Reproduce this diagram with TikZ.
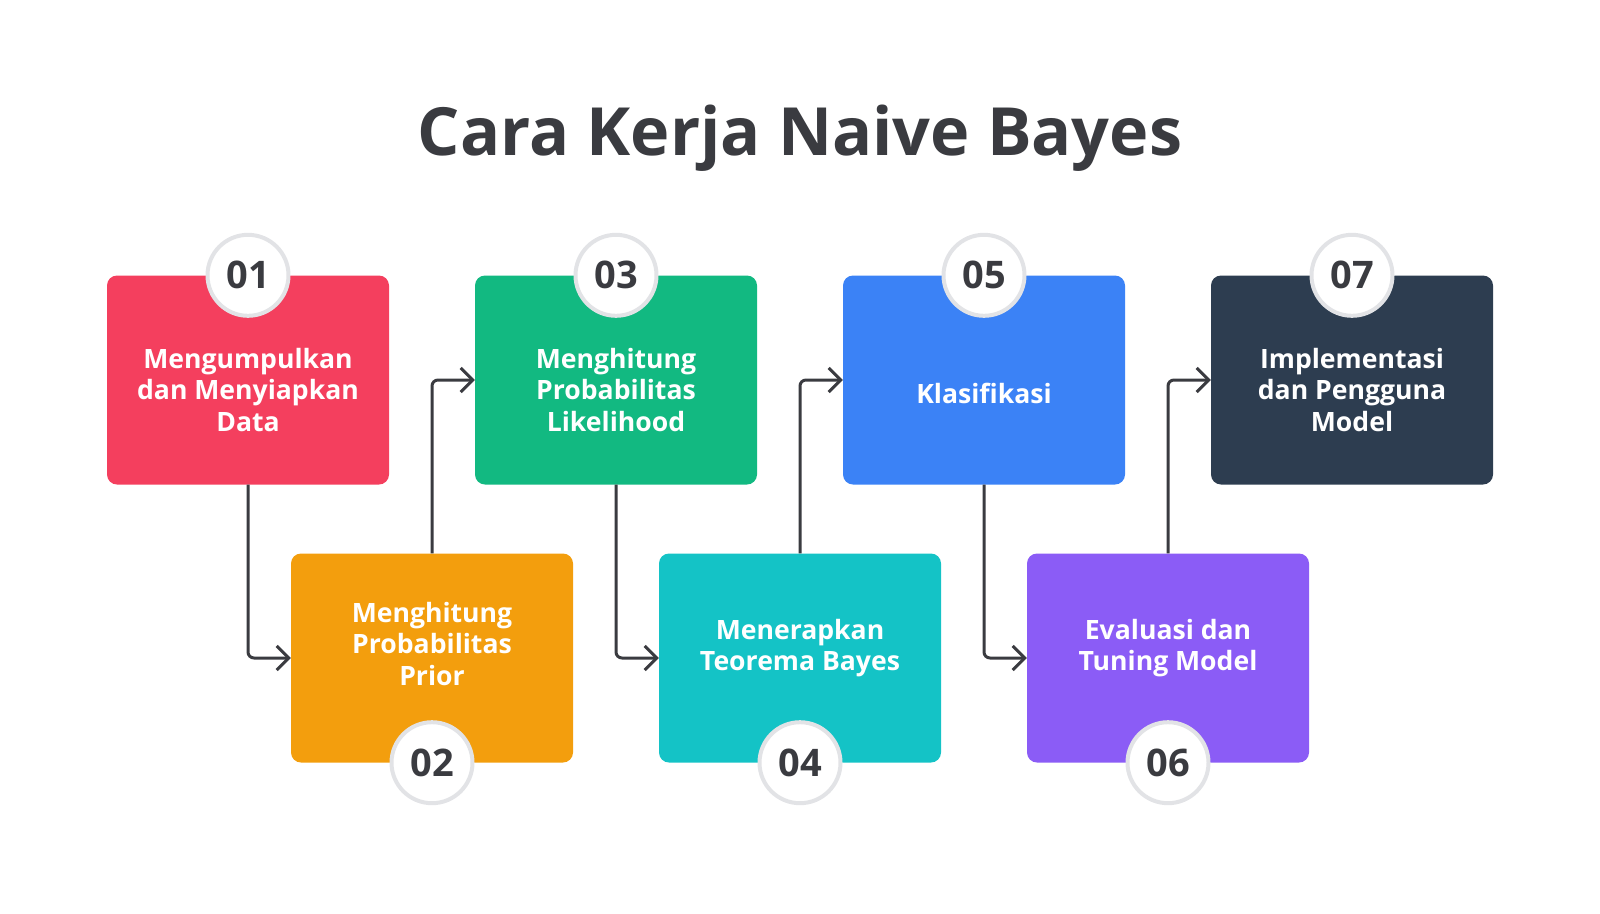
\documentclass[tikz,border=0pt]{standalone}
\usepackage{fontspec}
\setmainfont{Open Sans}
\usetikzlibrary{arrows.meta,positioning}
\definecolor{cRed}{HTML}{F43F5E}
\definecolor{cOrange}{HTML}{F39E0D}
\definecolor{cGreen}{HTML}{12B981}
\definecolor{cTeal}{HTML}{14C3C6}
\definecolor{cBlue}{HTML}{3B82F6}
\definecolor{cPurple}{HTML}{8B5CF6}
\definecolor{cDark}{HTML}{2D3D50}
\definecolor{cText}{HTML}{3A3B40}
\definecolor{cRing}{HTML}{E2E3E6}
\tikzset{
  stepbox/.style={rectangle, rounded corners=10pt, minimum width=282pt, minimum height=209pt,
    inner sep=0pt},
  boxtext/.style={text=white, align=center, inner sep=0pt,
    font=\fontsize{26.6pt}{31.7pt}\selectfont\bfseries},
  numcirc/.style={circle, fill=white, draw=cRing, line width=4pt, minimum size=81pt, inner sep=0pt,
    text=cText, font=\fontsize{38pt}{38pt}\selectfont\bfseries},
  conn/.style={draw=cText, line width=3pt, rounded corners=6pt,
    -{Straight Barb[length=12pt,width=24pt,line width=3pt]}},
}
\begin{document}
\begin{tikzpicture}[x=1pt,y=-1pt]
\useasboundingbox (0,0) rectangle (1600,913);
\node[text=cText, font=\fontsize{66.5pt}{66.5pt}\selectfont\bfseries] (title) at (800,138) {Cara Kerja Naive Bayes};

\node[stepbox, fill=cRed]    (b1) at (248,380) {};
\node[stepbox, fill=cOrange] (b2) at (432,658) {};
\node[stepbox, fill=cGreen]  (b3) at (616,380) {};
\node[stepbox, fill=cTeal]   (b4) at (800,658) {};
\node[stepbox, fill=cBlue]   (b5) at (984,380) {};
\node[stepbox, fill=cPurple] (b6) at (1168,658) {};
\node[stepbox, fill=cDark]   (b7) at (1352,380) {};

\node[boxtext] (t1) at ([yshift=-10pt]b1.center) {Mengumpulkan\\dan Menyiapkan\\Data};
\node[boxtext] (t2) at ([yshift=14pt]b2.center) {Menghitung\\Probabilitas\\Prior};
\node[boxtext] (t3) at ([yshift=-10pt]b3.center) {Menghitung\\Probabilitas\\Likelihood};
\node[boxtext] (t4) at ([yshift=10pt]b4.center) {Menerapkan\\Teorema Bayes};
\node[boxtext] (t5) at ([yshift=-13pt]b5.center) {Klasifikasi};
\node[boxtext] (t6) at ([yshift=10pt]b6.center) {Evaluasi dan\\Tuning Model};
\node[boxtext] (t7) at ([yshift=-10pt]b7.center) {Implementasi\\dan Pengguna\\Model};

\draw[conn] (b1.south) |- (b2.west);
\draw[conn] (b2.north) |- (b3.west);
\draw[conn] (b3.south) |- (b4.west);
\draw[conn] (b4.north) |- (b5.west);
\draw[conn] (b5.south) |- (b6.west);
\draw[conn] (b6.north) |- (b7.west);

\node[numcirc] (n1) at (b1.north) {01};
\node[numcirc] (n2) at (b2.south) {02};
\node[numcirc] (n3) at (b3.north) {03};
\node[numcirc] (n4) at (b4.south) {04};
\node[numcirc] (n5) at (b5.north) {05};
\node[numcirc] (n6) at (b6.south) {06};
\node[numcirc] (n7) at (b7.north) {07};
\end{tikzpicture}
\end{document}
